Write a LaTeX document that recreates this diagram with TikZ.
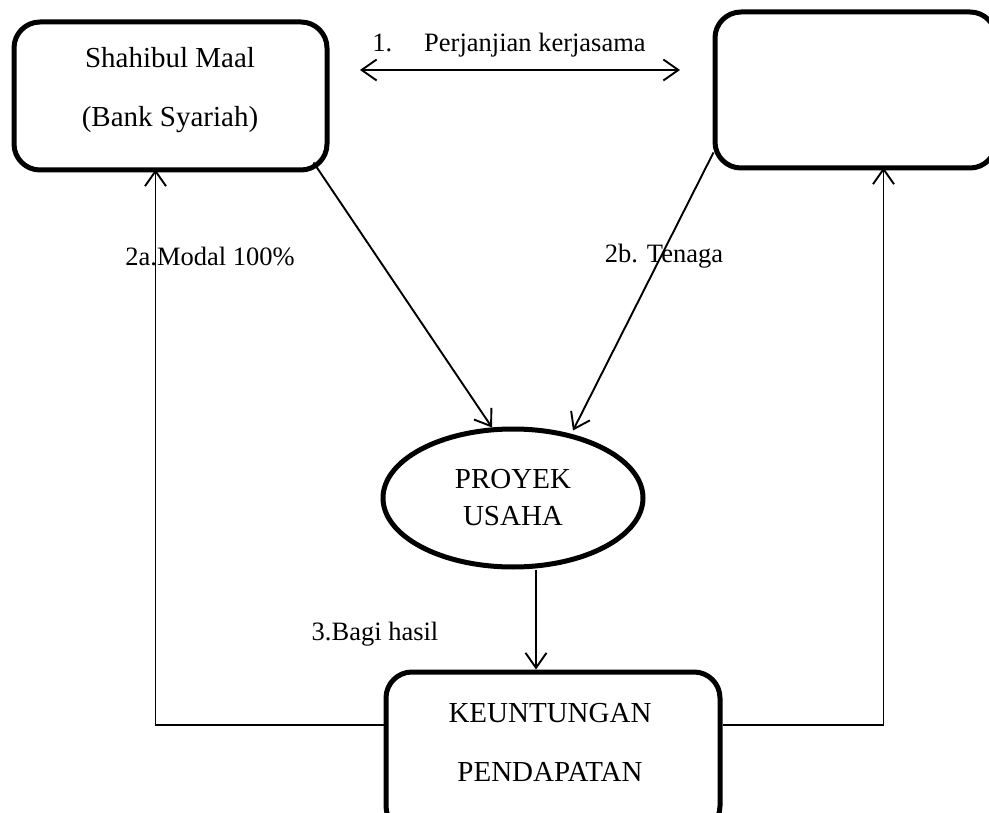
\documentclass[tikz,border=0pt]{standalone}
\usepackage{fontspec}
\setmainfont{Liberation Serif}
\usetikzlibrary{arrows.meta,calc,shapes.geometric}
\begin{document}
\begin{tikzpicture}[x=1pt,y=-1pt,
  big/.style={font=\fontsize{29}{34}\selectfont},
  rbox/.style={draw,line width=5pt,rounded corners=26pt,inner sep=0pt},
  txt/.style={big,align=center,inner sep=0pt},
  oval/.style={draw,ellipse,line width=5pt,align=center,inner sep=0pt,big},
  conn/.style={line width=1.9pt},
  arr/.style={conn,-{Straight Barb[length=15pt,width=21pt,line width=1.9pt]}},
  darr/.style={conn,{Straight Barb[length=15pt,width=21pt,line width=1.9pt]}-{Straight Barb[length=15pt,width=21pt,line width=1.9pt]}},
  lbl/.style={inner sep=0pt,font=\fontsize{26.5}{32}\selectfont}]
\useasboundingbox (0,0) rectangle (989,813);
\node[rbox,minimum width=313pt,minimum height=148pt] (L) at (170.5,96) {};
\node[txt] (Lt) at (170,90) {Shahibul Maal\\[25pt](Bank Syariah)};
\node[rbox,minimum width=281pt,minimum height=156pt] (R) at (855.5,90) {};
\node[oval,minimum width=260pt,minimum height=138pt] (E) at (513,498) {PROYEK\\[3pt]USAHA};
\node[rbox,minimum width=334pt,minimum height=160pt] (B) at (553,752) {};
\node[txt] (Bt) at (550,742) {KEUNTUNGAN\\[25pt]PENDAPATAN};
% labels
\node[lbl] (t1) at (509,45) {1.\hspace{32pt}Perjanjian kerjasama};
\node[lbl] (t2a) at (210,256) {2a.Modal 100\%};
\node[lbl] (t2b) at (664,256) {2b. Tenaga};
\node[lbl] (t3) at (375,634) {3.Bagi hasil};
% connectors
\coordinate (a1) at (360,70);
\coordinate (a2) at (680,70);
\draw[darr] (a1) -- (a2);
\draw[arr] ($(L.south east)+(-16,-10)$) -- ($(E.north)+(-21,1)$);
\draw[arr] ($(R.south west)+(1,-18)$) -- ($(E.north)+(60,4)$);
\coordinate (e3) at ($(E.south)+(23,0)$);
\draw[arr] (e3) -- (e3 |- B.north);
\coordinate (lb) at ($(L.south)+(-15,-3)$);
\coordinate (rb) at ($(R.south)+(28,-3)$);
\coordinate (bw) at ($(B.west)+(0,-27)$);
\coordinate (be) at ($(B.east)+(0,-27)$);
\draw[arr] (bw) -| (lb);
\draw[arr] (be) -| (rb);
\end{tikzpicture}
\end{document}
